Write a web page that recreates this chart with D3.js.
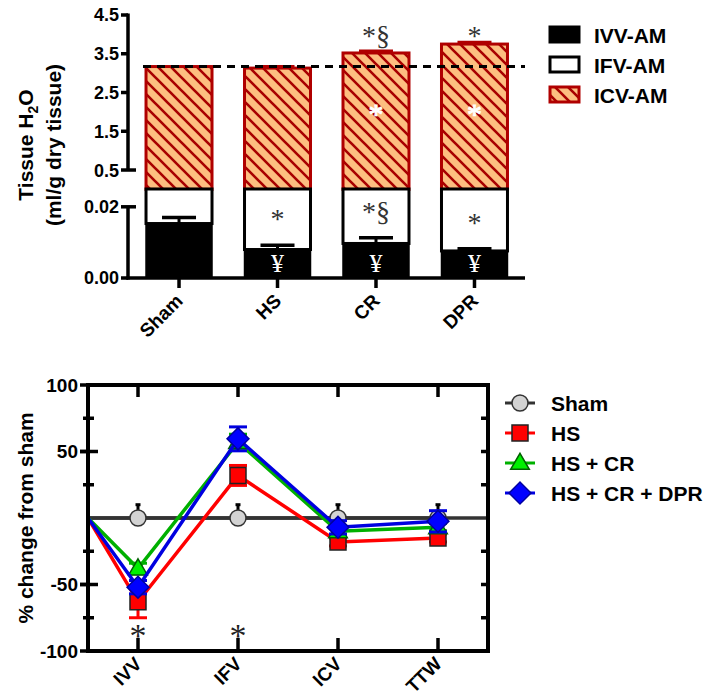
<!DOCTYPE html>
<html><head><meta charset="utf-8">
<script src="https://cdn.jsdelivr.net/npm/d3@7"></script>
<style>
body{margin:0;background:#fff;}
svg{display:block;}
text{font-family:"Liberation Sans",Arial,sans-serif;font-weight:bold;fill:#000;}
.serif{font-family:"Liberation Serif","Times New Roman",serif;font-weight:normal;}
</style></head>
<body>
<script>
// ---------- Top chart data ----------
const groups = ["Sham", "HS", "CR", "DPR"];
const ivvMean = [0.0153, 0.0080, 0.0097, 0.0076];
const ivvErr = [0.0017, 0.0012, 0.0016, 0.0006];
const totalMean = [3.17, 3.13, 3.52, 3.75];
const totalErr = [0.0, 0.04, 0.05, 0.05];
const ivvMarks = ["", "¥", "¥", "¥"];
const ifvMarks = ["", "*", "*§", "*"];
const icvMarks = ["", "", "*", "*"];
const totalMarks = ["", "", "*§", "*"];
const lowTicks = [0.00, 0.02];
const highTicks = [0.5, 1.5, 2.5, 3.5, 4.5];
const stackLegend = ["IVV-AM", "IFV-AM", "ICV-AM"];

// ---------- Bottom chart data ----------
const compartments = ["IVV", "IFV", "ICV", "TTW"];
const seriesNames = ["Sham", "HS", "HS + CR", "HS + CR + DPR"];
const originValue = 0;
const shamVals = [0, 0, 0, 0];
const shamErr = [10, 10, 10, 10];
const hsVals = [-63, 32, -18, -15];
const hsErr = [12, 7.5, 3, 3];
const crVals = [-38, 57, -10, -7];
const crErr = [4, 6, 3, 3];
const dprVals = [-52, 59.5, -7, -2.5];
const dprErr = [5, 9, 5, 8];
const pctTicks = [-100, -75, -50, -25, 0, 25, 50, 75, 100];
const pctLabels = [-100, -50, 50, 100];
const starCats = ["IVV", "IFV"];

const W = 715, H = 700;
const svg = d3.select("body").append("svg").attr("width", W).attr("height", H);

// hatch pattern
const defs = svg.append("defs");
const pat = defs.append("pattern").attr("id", "hatch").attr("patternUnits", "userSpaceOnUse")
  .attr("width", 13).attr("height", 13);
pat.append("rect").attr("width", 13).attr("height", 13).attr("fill", "#FDBE80");
pat.append("path").attr("d", "M-3,-3 L16,16 M-3,10 L3,16 M10,-3 L16,3")
  .attr("stroke", "#A80000").attr("stroke-width", 2.6);

// ===================== TOP CHART =====================
const axX = 128, baseY = 278;
const x1 = d3.scaleBand().domain(groups).range([axX, 525.5]).paddingInner(0.33).paddingOuter(0.183);
const yLow = d3.scaleLinear().domain([0, 0.025]).range([baseY, 189]);
const yHigh = d3.scaleLinear().domain([0, 4.5]).range([189.4, 15]);
const topG = svg.append("g");

// ICV hatched (total) bars
topG.selectAll("rect.icv").data(groups).join("rect")
  .attr("x", d => x1(d)).attr("width", x1.bandwidth())
  .attr("y", (d, i) => yHigh(totalMean[i]))
  .attr("height", (d, i) => yHigh(0) - yHigh(totalMean[i]))
  .attr("fill", "url(#hatch)").attr("stroke", "#B00000").attr("stroke-width", 3);
// IFV white
topG.selectAll("rect.ifv").data(groups).join("rect")
  .attr("x", d => x1(d)).attr("width", x1.bandwidth())
  .attr("y", yLow(0.025)).attr("height", (d, i) => yLow(ivvMean[i]) - yLow(0.025))
  .attr("fill", "#fff").attr("stroke", "#000").attr("stroke-width", 3);
// IVV black
topG.selectAll("rect.ivv").data(groups).join("rect")
  .attr("x", d => x1(d)).attr("width", x1.bandwidth())
  .attr("y", (d, i) => yLow(ivvMean[i])).attr("height", (d, i) => yLow(0) - yLow(ivvMean[i]))
  .attr("fill", "#000").attr("stroke", "#000").attr("stroke-width", 1.5);
// error bars
groups.forEach((g, i) => {
  const cx = x1(g) + x1.bandwidth() / 2;
  topG.append("line").attr("x1", cx).attr("x2", cx).attr("y1", yLow(ivvMean[i])).attr("y2", yLow(ivvMean[i] + ivvErr[i]))
    .attr("stroke", "#000").attr("stroke-width", 3);
  topG.append("line").attr("x1", cx - 17).attr("x2", cx + 17).attr("y1", yLow(ivvMean[i] + ivvErr[i])).attr("y2", yLow(ivvMean[i] + ivvErr[i]))
    .attr("stroke", "#000").attr("stroke-width", 3.5);
  if (totalErr[i] > 0) {
    topG.append("line").attr("x1", cx - 17).attr("x2", cx + 17).attr("y1", yHigh(totalMean[i] + totalErr[i])).attr("y2", yHigh(totalMean[i] + totalErr[i]))
      .attr("stroke", "#B00000").attr("stroke-width", 3);
  }
});
// dashed reference line at Sham total
topG.append("line").attr("x1", 143).attr("x2", 525).attr("y1", yHigh(totalMean[0])).attr("y2", yHigh(totalMean[0]))
  .attr("stroke", "#000").attr("stroke-width", 3).attr("stroke-dasharray", "8,6");

// annotations
groups.forEach((g, i) => {
  const cx = x1(g) + x1.bandwidth() / 2;
  const ivvTop = yLow(ivvMean[i] + ivvErr[i]);
  topG.append("text").attr("class", "serif").attr("x", cx).attr("y", yLow(0) - 6)
    .attr("text-anchor", "middle").attr("font-size", 26).style("fill", "#fff").text(ivvMarks[i]);
  topG.append("text").attr("class", "serif").attr("x", cx).attr("y", ivvTop - 17)
    .attr("text-anchor", "middle").attr("font-size", 28).style("fill", "#333").text(ifvMarks[i]);
  topG.append("text").attr("class", "serif").attr("x", cx).attr("y", yHigh(2.05) + 14)
    .attr("text-anchor", "middle").attr("font-size", 30).style("fill", "#fff")
    .attr("stroke", "#fff").attr("stroke-width", 0.9).text(icvMarks[i]);
  topG.append("text").attr("class", "serif").attr("x", cx).attr("y", yHigh(4.05) + 13)
    .attr("text-anchor", "middle").attr("font-size", 28).style("fill", "#333").text(totalMarks[i]);
});

// axes (segmented)
const axG = topG.append("g");
axG.append("line").attr("x1", axX).attr("x2", axX).attr("y1", yLow(0) + 1.5).attr("y2", yLow(0.02))
  .attr("stroke", "#000").attr("stroke-width", 3.5);
axG.append("line").attr("x1", axX).attr("x2", axX).attr("y1", yHigh(0.5)).attr("y2", yHigh(4.5) - 1.5)
  .attr("stroke", "#000").attr("stroke-width", 3.5);
lowTicks.forEach(t => {
  const end = t === 0.02;
  axG.append("line").attr("x1", axX - 7).attr("x2", end ? axX + 8 : axX).attr("y1", yLow(t)).attr("y2", yLow(t))
    .attr("stroke", "#000").attr("stroke-width", 3.5);
  axG.append("text").attr("x", axX - 9).attr("y", yLow(t)).attr("dy", "0.36em").attr("text-anchor", "end")
    .attr("font-size", 18).text(d3.format(".2f")(t));
});
highTicks.forEach(t => {
  const end = t === 0.5;
  axG.append("line").attr("x1", axX - 7).attr("x2", end ? axX + 8 : axX).attr("y1", yHigh(t)).attr("y2", yHigh(t))
    .attr("stroke", "#000").attr("stroke-width", 3.5);
  axG.append("text").attr("x", axX - 9).attr("y", yHigh(t)).attr("dy", "0.36em").attr("text-anchor", "end")
    .attr("font-size", 18).text(d3.format(".1f")(t));
});
axG.append("line").attr("x1", axX - 1.5).attr("x2", 525).attr("y1", baseY).attr("y2", baseY)
  .attr("stroke", "#000").attr("stroke-width", 3.5);
groups.forEach(g => {
  const cx = x1(g) + x1.bandwidth() / 2;
  axG.append("line").attr("x1", cx).attr("x2", cx).attr("y1", baseY).attr("y2", baseY + 10)
    .attr("stroke", "#000").attr("stroke-width", 3.5);
  axG.append("text").attr("transform", `translate(${cx + 5},${baseY + 24}) rotate(-45)`)
    .attr("text-anchor", "end").attr("font-size", 19).text(g);
});
// y title
topG.append("text").attr("transform", "translate(33,145) rotate(-90)").attr("text-anchor", "middle")
  .attr("font-size", 21).html('Tissue H<tspan font-size="14" dy="5">2</tspan><tspan dy="-5">O</tspan>');
topG.append("text").attr("transform", "translate(61,145) rotate(-90)").attr("text-anchor", "middle")
  .attr("font-size", 21).text("(ml/g dry tissue)");
// legend
const legFill = ["#000", "#fff", "url(#hatch)"];
const legStroke = ["#000", "#000", "#B00000"];
stackLegend.forEach((s, i) => {
  const yc = 35 + i * 30;
  topG.append("rect").attr("x", 550).attr("y", yc - 8).attr("width", 29).attr("height", 15)
    .attr("fill", legFill[i]).attr("stroke", legStroke[i]).attr("stroke-width", 3);
  topG.append("text").attr("x", 594).attr("y", yc + 7.5).attr("font-size", 21).text(s);
});

// ===================== BOTTOM CHART =====================
const bx = d3.scaleLinear().domain([0.5, 4.5]).range([88, 488]);
const by = d3.scaleLinear().domain([-100, 100]).range([651, 385]);
const bot = svg.append("g");
const catX = c => bx(compartments.indexOf(c) + 1);

// zero reference line
bot.append("line").attr("x1", bx(0.5)).attr("x2", bx(4.5)).attr("y1", by(0)).attr("y2", by(0))
  .attr("stroke", "#333").attr("stroke-width", 3.5);

const series = [
  {name: seriesNames[0], vals: shamVals, err: shamErr, line: "#333", fill: "#D3D3D3", stroke: "#333", shape: "circle", up: true},
  {name: seriesNames[1], vals: hsVals, err: hsErr, line: "#FF0000", fill: "#FF0000", stroke: "#222", shape: "square"},
  {name: seriesNames[2], vals: crVals, err: crErr, line: "#00B000", fill: "#00F000", stroke: "#006000", shape: "triangle"},
  {name: seriesNames[3], vals: dprVals, err: dprErr, line: "#0000E0", fill: "#0000FF", stroke: "#0000A0", shape: "diamond"}
];
const symGen = {
  circle: d3.symbol().type(d3.symbolCircle).size(Math.PI * 64),
  square: d3.symbol().type(d3.symbolSquare).size(256),
  triangle: d3.symbol().type(d3.symbolTriangle).size(150),
  diamond: d3.symbol().type(d3.symbolSquare).size(240)
};
const lineGen = d3.line().x(d => bx(d[0])).y(d => by(d[1]));
function drawMarker(g, s, x, y) {
  const p = g.append("path").attr("d", symGen[s.shape]()).attr("fill", s.fill)
    .attr("stroke", s.stroke).attr("stroke-width", 1.5);
  if (s.shape === "diamond") p.attr("transform", `translate(${x},${y}) rotate(45)`);
  else if (s.shape === "triangle") p.attr("transform", `translate(${x},${y + 1})`);
  else p.attr("transform", `translate(${x},${y})`);
}
series.forEach(s => {
  const pts = [[0.5, originValue]].concat(s.vals.map((v, i) => [i + 1, v]));
  bot.append("path").attr("d", lineGen(pts)).attr("fill", "none").attr("stroke", s.line).attr("stroke-width", 3.5);
  s.vals.forEach((v, i) => {
    const cx = bx(i + 1);
    const lo = s.up ? v : v - s.err[i], hi = v + s.err[i];
    bot.append("line").attr("x1", cx).attr("x2", cx).attr("y1", by(lo)).attr("y2", by(hi))
      .attr("stroke", s.up ? "#000" : s.line).attr("stroke-width", 3);
    const cw = s.up ? 2.5 : 9;
    bot.append("line").attr("x1", cx - cw).attr("x2", cx + cw).attr("y1", by(hi)).attr("y2", by(hi))
      .attr("stroke", s.up ? "#000" : s.line).attr("stroke-width", 3);
    if (!s.up) bot.append("line").attr("x1", cx - cw).attr("x2", cx + cw).attr("y1", by(lo)).attr("y2", by(lo))
      .attr("stroke", s.line).attr("stroke-width", 3);
  });
  s.vals.forEach((v, i) => drawMarker(bot, s, bx(i + 1), by(v)));
});

// frame & ticks
bot.append("rect").attr("x", bx(0.5)).attr("y", by(100)).attr("width", bx(4.5) - bx(0.5)).attr("height", by(-100) - by(100))
  .attr("fill", "none").attr("stroke", "#000").attr("stroke-width", 4);
pctTicks.forEach(t => {
  if (t === 100 || t === -100 || t === 0) return;
  const major = pctLabels.includes(t);
  bot.append("line").attr("x1", bx(0.5) - (major ? 8 : 5)).attr("x2", bx(0.5) + (major ? 10 : 6))
    .attr("y1", by(t)).attr("y2", by(t)).attr("stroke", "#000").attr("stroke-width", 3.5);
  bot.append("line").attr("x1", bx(4.5) - 7).attr("x2", bx(4.5)).attr("y1", by(t)).attr("y2", by(t))
    .attr("stroke", "#000").attr("stroke-width", 3.5);
});
pctLabels.forEach(t => {
  bot.append("line").attr("x1", bx(0.5) - 8).attr("x2", bx(0.5)).attr("y1", by(t)).attr("y2", by(t))
    .attr("stroke", "#000").attr("stroke-width", 3.5);
  bot.append("text").attr("x", bx(0.5) - 10).attr("y", by(t)).attr("dy", "0.36em").attr("text-anchor", "end")
    .attr("font-size", 19).text(t);
});
compartments.forEach((c, i) => {
  const cx = bx(i + 1);
  bot.append("line").attr("x1", cx).attr("x2", cx).attr("y1", by(100)).attr("y2", by(100) + 12)
    .attr("stroke", "#000").attr("stroke-width", 3.5);
  bot.append("line").attr("x1", cx).attr("x2", cx).attr("y1", by(-100)).attr("y2", by(-100) - 13)
    .attr("stroke", "#000").attr("stroke-width", 3.5);
  bot.append("text").attr("transform", `translate(${cx + 5},${by(-100) + 14}) rotate(-45)`)
    .attr("text-anchor", "end").attr("font-size", 19).text(c);
});
starCats.forEach(c => {
  bot.append("text").attr("class", "serif").attr("x", catX(c)).attr("y", by(-85) + 16)
    .attr("text-anchor", "middle").attr("font-size", 34).style("fill", "#222").text("*");
});
bot.append("text").attr("transform", `translate(33,${by(0)}) rotate(-90)`).attr("text-anchor", "middle")
  .attr("font-size", 21).text("% change from sham");

// legend
series.forEach((s, i) => {
  const yc = 403 + i * 30;
  bot.append("line").attr("x1", 505).attr("x2", 535).attr("y1", yc).attr("y2", yc)
    .attr("stroke", s.line).attr("stroke-width", 3);
  drawMarker(bot, s, 520, yc);
  bot.append("text").attr("x", 551).attr("y", yc + 7.5).attr("font-size", 21).text(s.name);
});
</script>
</body></html>
